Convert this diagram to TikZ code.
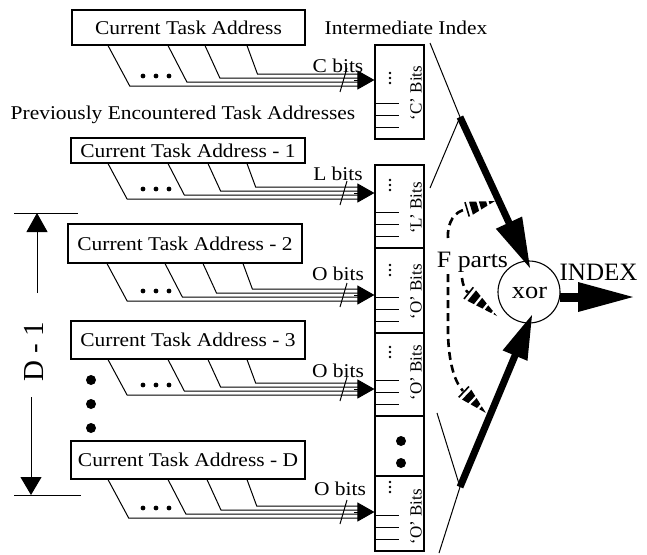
\documentclass[tikz,border=0pt]{standalone}
\usepackage{graphicx}
\usepackage{fontspec}
\setmainfont{Liberation Serif}
\usetikzlibrary{calc,arrows.meta}
\newcommand{\lbl}[2]{{\fontsize{#1}{#1}\selectfont\scalebox{1.1}[1]{#2}}}
% bundle of four wires from a source box into a register box
% #1 box name, #2 box bottom y, #3 arrow tip y, #4-#7 wire start x, #8 register node
\newcommand{\bundle}[8]{%
  \foreach \s/\o/\r in {#4/6/0.53,#5/2/0.51,#6/-2/0.45,#7/-6/0.36}{%
    \draw[wire] (\s,0 |- #1.south) -- ({\s+\r*(#3+\o-#2)},{#3+\o}) -- (358,{#3+\o});}
  \draw[wire,-{Triangle[length=17pt,width=19pt]}] (354,#3) -- (#8.west |- 0,#3);
  \draw[wire] (347,#3-12) -- (340,#3+12);
  \foreach \d in {143,156,169}{\fill (\d,#3-4) circle (2.4pt);}
}
% register box: #1 name, #2 centre y, #3 height, #4 vdots y, #5 label, #6 label y
\newcommand{\regbox}[6]{%
  \node[box,minimum width=49pt,minimum height=#3pt] (#1) at (399.5,#2) {};
  \foreach \yy in {12,24,36}{\draw[wire] ($(#1.south west)+(0,-\yy)$) -- ++(25,0);}
  \foreach \vv in {-5,0,5}{\fill (390,#4+\vv) circle (1.3pt);}
  \node[txt,rotate=90] at (421.5,#6) {\fontsize{17}{17}\selectfont #5};
}
% hatched (dashed) arrow head: #1 base, #2 tip
\newcommand{\hhead}[2]{%
  \coordinate (hP) at ($(#1)!-3pt!(#2)$);
  \draw[line width=1.6pt] ($(hP)!7.5pt!90:(#2)$) -- ($(hP)!7.5pt!-90:(#2)$);
  \begin{scope}
    \clip ($(#1)!7pt!90:(#2)$) -- ($(#1)!7pt!-90:(#2)$) -- (#2) -- cycle;
    \draw[line width=18pt,dash pattern=on 7pt off 2.5pt] ($(#1)!1pt!(#2)$) -- (#2);
  \end{scope}
}
% big solid arrow: #1 start, #2 tip, #3 head length, #4 head half width, #5 shaft width
\newcommand{\bigarrow}[5]{%
  \coordinate (ba) at ($(#2)!#3!(#1)$);
  \draw[line width=#5] (#1) -- ($(ba)!0.3!(#2)$);
  \fill ($(ba)!#4!90:(#2)$) -- (#2) -- ($(ba)!#4!-90:(#2)$) -- cycle;
}
\begin{document}
\begin{tikzpicture}[x=1pt,y=-1pt,
  box/.style={draw,line width=1.1pt,inner sep=0pt},
  wire/.style={line width=1pt},
  txt/.style={inner sep=0pt,anchor=base},
  fdash/.style={line width=2.6pt,dash pattern=on 8pt off 5pt}]
\useasboundingbox (0,0) rectangle (647,554);

% ---------- source address boxes ----------
\node[box,minimum width=233pt,minimum height=35pt] (cta0) at (188.5,27.5) {\lbl{19.5}{Current Task Address}};
\node[box,minimum width=234pt,minimum height=25pt] (cta1) at (188,150.5) {\lbl{19.5}{Current Task Address - 1}};
\node[box,minimum width=234pt,minimum height=39pt] (cta2) at (185,243.5) {\lbl{19.5}{Current Task Address - 2}};
\node[box,minimum width=234pt,minimum height=38pt] (cta3) at (188,340) {\lbl{19.5}{Current Task Address - 3}};
\node[box,minimum width=234pt,minimum height=38pt] (ctaD) at (188,460) {\lbl{19.5}{Current Task Address - D}};

\node[txt] (prev) at (183,119) {\lbl{19.5}{Previously Encountered Task Addresses}};
\node[txt] (inter) at (406,34) {\lbl{19.5}{Intermediate Index}};

% ---------- register column ----------
\regbox{regC}{92}{94}{78}{‘C’ Bits}{93}
\regbox{regL}{206.5}{83}{185}{‘L’ Bits}{208}
\regbox{regO1}{290.5}{85}{270}{‘O’ Bits}{292}
\regbox{regO2}{374.5}{83}{352}{‘O’ Bits}{373}
\node[box,minimum width=49pt,minimum height=60pt] (regDots) at (399.5,446) {};
\fill (401,441) circle (5pt);
\fill (401,463) circle (5pt);
\regbox{regO3}{513.5}{75}{487}{‘O’ Bits}{517}

% ---------- wire bundles ----------
\bundle{cta0}{45}{80}{108}{168}{205}{247}{regC}
\bundle{cta1}{163}{193}{108}{168}{208}{247}{regL}
\bundle{cta2}{263}{295}{107}{165}{203}{243}{regO1}
\bundle{cta3}{359}{389}{108}{168}{208}{247}{regO2}
\bundle{ctaD}{479}{512}{108}{168}{207}{247}{regO3}

\node[txt] at (338,72) {\lbl{19.5}{C bits}};
\node[txt] at (338,180) {\lbl{19.5}{L bits}};
\node[txt] at (338,280) {\lbl{19.5}{O bits}};
\node[txt] at (338,377) {\lbl{19.5}{O bits}};
\node[txt] at (340,495) {\lbl{19.5}{O bits}};

% ---------- vertical dots and D - 1 dimension ----------
\foreach \yy in {380,404,428}{\fill (91,\yy) circle (5pt);}
\draw[wire] (14,213) -- (78,213);
\draw[wire,-{Triangle[length=19pt,width=21pt]}] (37,293) -- (37,213);
\draw[wire] (14,495) -- (81,495);
\draw[wire,-{Triangle[length=18pt,width=21pt]}] (31,397) -- (31,495);
\node[txt,rotate=90] (dim) at (43,352) {\fontsize{29}{29}\selectfont D - 1};

% ---------- xor ----------
\node[draw,circle,line width=1.1pt,minimum size=62pt,inner sep=0pt] (xor) at (529,292) {};
\node[txt] at (529.5,298) {\lbl{24}{xor}};

\coordinate (iiTop) at (460,117);
\coordinate (iiBot) at (460,487);
\draw[wire] (430,43) -- (iiTop) -- (430,188);
\draw[wire] (437,413) -- (iiBot) -- (439,553);

\bigarrow{iiTop}{$(xor.center)+(1,-24)$}{50pt}{14.5pt}{7pt}
\bigarrow{iiBot}{$(xor.center)+(3,23)$}{44pt}{13.5pt}{7pt}
\bigarrow{$(xor.center)+(30.6,5)$}{633,297}{55pt}{15pt}{9pt}
\node[txt] (index) at (598.5,280) {\fontsize{25}{25}\selectfont INDEX};

% ---------- F parts ----------
\node[txt] (fparts) at (472.5,267) {\lbl{23.5}{F parts}};
\draw[fdash] (448,238) .. controls (447,222) and (455,211) .. (466,209.5);
\hhead{470,208.5}{495,201}
\draw[fdash] (462,278) .. controls (463,286) and (465,290) .. (468,292.5);
\hhead{471,295}{497,316}
\draw[fdash] (448,274) -- (448,335) .. controls (449,362) and (454,381) .. (463,391);
\hhead{466,394}{486,413}
\end{tikzpicture}
\end{document}
